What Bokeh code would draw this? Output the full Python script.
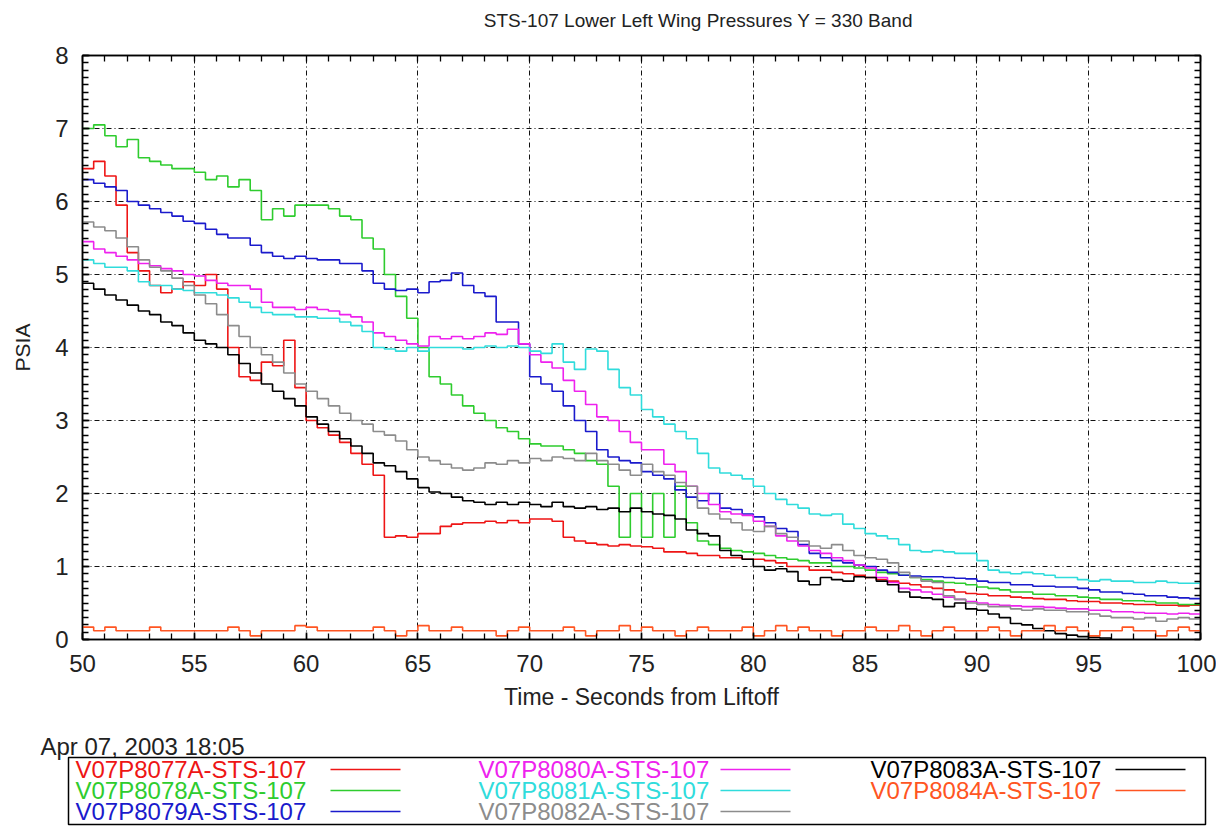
import numpy as np
from bokeh.plotting import figure
from bokeh.models import Range1d, LinearAxis, SingleIntervalTicker, FixedTicker
from bokeh.core.properties import value
from bokeh.embed import file_html
from bokeh.resources import INLINE

TITLE = "STS-107 Lower Left Wing Pressures Y = 330 Band"
X_LABEL = "Time - Seconds from Liftoff"
Y_LABEL = "PSIA"
DATE_TEXT = "Apr 07, 2003 18:05"

# time grid (s from liftoff), 0.5 s steps from 50 to 100
T = np.arange(50.0, 100.01, 0.5)

NAMES = ["V07P8077A-STS-107", "V07P8078A-STS-107", "V07P8079A-STS-107",
         "V07P8080A-STS-107", "V07P8081A-STS-107", "V07P8082A-STS-107",
         "V07P8083A-STS-107", "V07P8084A-STS-107"]
COLORS = ["#ee1515", "#2ecc2e", "#1a1acc", "#ee22ee", "#30dcdc", "#8c8c8c", "#000000", "#ff5522"]

P8077 = [6.45, 6.55, 6.35, 5.95, 5.3, 5.05, 4.85, 4.75, 4.8, 4.9,
         4.85, 5.0, 4.8, 4.0, 3.6, 3.55, 3.8, 3.75, 4.1, 3.45,
         3.0, 2.9, 2.8, 2.7, 2.55, 2.4, 2.25, 1.4, 1.42, 1.4,
         1.45, 1.45, 1.55, 1.58, 1.6, 1.6, 1.62, 1.6, 1.63, 1.6,
         1.65, 1.65, 1.62, 1.4, 1.35, 1.32, 1.3, 1.28, 1.3, 1.28,
         1.27, 1.25, 1.2, 1.2, 1.18, 1.15, 1.15, 1.12, 1.12, 1.1,
         1.1, 1.08, 1.05, 1.0, 1.0, 0.95, 0.95, 0.92, 0.9, 0.88,
         0.85, 0.82, 0.8, 0.77, 0.75, 0.72, 0.7, 0.68, 0.65, 0.63,
         0.62, 0.6, 0.6, 0.58, 0.57, 0.56, 0.55, 0.55, 0.53, 0.52,
         0.52, 0.5, 0.5, 0.49, 0.48, 0.48, 0.47, 0.47, 0.46, 0.47,
         0.47]
P8078 = [7.0, 7.05, 6.9, 6.75, 6.85, 6.6, 6.55, 6.5, 6.45, 6.45,
         6.4, 6.3, 6.35, 6.2, 6.3, 6.15, 5.75, 5.9, 5.8, 5.95,
         5.95, 5.95, 5.9, 5.8, 5.75, 5.5, 5.35, 5.0, 4.7, 4.4,
         4.0, 3.6, 3.5, 3.35, 3.2, 3.1, 3.0, 2.9, 2.85, 2.75,
         2.68, 2.65, 2.65, 2.6, 2.55, 2.45, 2.4, 2.1, 1.4, 2.0,
         1.4, 2.0, 1.4, 2.1, 1.6, 1.35, 1.3, 1.25, 1.22, 1.2,
         1.18, 1.15, 1.12, 1.1, 1.08, 1.05, 1.05, 1.0, 1.0, 0.98,
         0.95, 0.92, 0.9, 0.88, 0.85, 0.82, 0.8, 0.78, 0.77, 0.75,
         0.72, 0.7, 0.68, 0.65, 0.65, 0.62, 0.62, 0.6, 0.6, 0.58,
         0.57, 0.55, 0.55, 0.53, 0.53, 0.52, 0.5, 0.5, 0.48, 0.48,
         0.5]
P8079 = [6.3, 6.25, 6.2, 6.15, 6.0, 5.95, 5.9, 5.85, 5.8, 5.73,
         5.7, 5.62, 5.55, 5.5, 5.5, 5.4, 5.3, 5.25, 5.22, 5.25,
         5.22, 5.2, 5.2, 5.15, 5.15, 5.05, 4.88, 4.8, 4.78, 4.8,
         4.75, 4.9, 4.92, 5.02, 4.85, 4.75, 4.7, 4.35, 4.35, 4.05,
         3.6, 3.5, 3.4, 3.2, 3.0, 2.85, 2.6, 2.5, 2.45, 2.42,
         2.3, 2.25, 2.2, 2.05, 1.95, 1.9, 2.0, 1.8, 1.78, 1.72,
         1.68, 1.6, 1.52, 1.48, 1.3, 1.18, 1.12, 1.08, 1.05, 1.02,
         1.0, 0.95, 0.92, 0.88, 0.87, 0.86, 0.86, 0.85, 0.84, 0.83,
         0.8, 0.78, 0.78, 0.75, 0.75, 0.73, 0.73, 0.72, 0.72, 0.7,
         0.68, 0.65, 0.65, 0.63, 0.62, 0.6, 0.6, 0.58, 0.57, 0.56,
         0.56]
P8080 = [5.45, 5.35, 5.3, 5.25, 5.2, 5.15, 5.12, 5.08, 5.05, 5.0,
         4.98, 4.92, 4.88, 4.85, 4.85, 4.8, 4.62, 4.55, 4.55, 4.52,
         4.55, 4.52, 4.5, 4.45, 4.42, 4.35, 4.2, 4.15, 4.1, 4.05,
         4.02, 4.15, 4.12, 4.15, 4.12, 4.15, 4.2, 4.18, 4.25, 4.05,
         3.9, 3.8, 3.72, 3.55, 3.4, 3.22, 3.05, 3.0, 2.85, 2.7,
         2.6, 2.6, 2.4, 2.3, 2.1, 2.0, 1.85, 1.75, 1.72, 1.7,
         1.62, 1.55, 1.42, 1.35, 1.28, 1.22, 1.18, 1.12, 1.08, 1.02,
         0.98, 0.85, 0.78, 0.7, 0.68, 0.65, 0.62, 0.58, 0.55, 0.52,
         0.5, 0.48, 0.47, 0.46, 0.45, 0.45, 0.44, 0.43, 0.42, 0.42,
         0.4, 0.4, 0.38, 0.38, 0.37, 0.36, 0.36, 0.35, 0.36, 0.35,
         0.36]
P8081 = [5.2, 5.15, 5.1, 5.1, 5.05, 4.9, 4.85, 4.85, 4.8, 4.78,
         4.75, 4.75, 4.72, 4.68, 4.62, 4.55, 4.48, 4.45, 4.45, 4.42,
         4.42, 4.4, 4.4, 4.35, 4.3, 4.22, 4.0, 3.98, 3.95, 4.0,
         3.95, 4.0, 4.0, 4.0, 3.98, 4.0, 4.02, 4.0, 4.02, 4.0,
         3.95, 3.92, 4.05, 3.8, 3.7, 3.98, 3.95, 3.7, 3.45, 3.35,
         3.15, 3.05, 2.95, 2.85, 2.75, 2.55, 2.35, 2.28, 2.25, 2.2,
         2.1, 2.0, 1.92, 1.85, 1.8, 1.72, 1.7, 1.72, 1.58, 1.52,
         1.45, 1.42, 1.38, 1.3, 1.22, 1.2, 1.22, 1.2, 1.18, 1.18,
         1.08, 0.95, 0.92, 0.9, 0.92, 0.9, 0.88, 0.85, 0.85, 0.82,
         0.8, 0.82, 0.8, 0.8, 0.78, 0.78, 0.8, 0.78, 0.77, 0.77,
         0.75]
P8082 = [5.72, 5.65, 5.6, 5.5, 5.38, 5.2, 5.1, 5.05, 4.95, 4.85,
         4.72, 4.6, 4.45, 4.3, 4.15, 4.0, 3.9, 3.8, 3.65, 3.5,
         3.4, 3.3, 3.2, 3.1, 3.0, 2.95, 2.85, 2.8, 2.72, 2.6,
         2.5, 2.45, 2.4, 2.35, 2.32, 2.35, 2.42, 2.4, 2.45, 2.42,
         2.48, 2.45, 2.5, 2.48, 2.45, 2.55, 2.45, 2.4, 2.32, 2.25,
         2.4, 2.3, 2.25, 2.15, 2.1, 1.8, 1.72, 1.65, 1.6, 1.5,
         1.48, 1.55, 1.45, 1.4, 1.35, 1.28, 1.25, 1.3, 1.22, 1.15,
         1.12, 1.1, 1.05, 0.92, 0.85, 0.8, 0.78, 0.6, 0.55, 0.5,
         0.48, 0.45, 0.45, 0.42, 0.4, 0.42, 0.4, 0.4, 0.38, 0.38,
         0.35, 0.32, 0.3, 0.3, 0.28, 0.3, 0.25, 0.28, 0.3, 0.28,
         0.3]
P8083 = [4.88, 4.8, 4.72, 4.65, 4.58, 4.5, 4.45, 4.35, 4.3, 4.2,
         4.1, 4.05, 4.0, 3.9, 3.78, 3.65, 3.5, 3.4, 3.3, 3.2,
         3.05, 2.95, 2.85, 2.75, 2.65, 2.55, 2.42, 2.38, 2.3, 2.2,
         2.08, 2.02, 2.0, 1.95, 1.9, 1.88, 1.85, 1.88, 1.85, 1.88,
         1.85, 1.82, 1.88, 1.82, 1.8, 1.82, 1.78, 1.8, 1.75, 1.8,
         1.75, 1.72, 1.7, 1.65, 1.5, 1.45, 1.42, 1.22, 1.15, 1.1,
         1.0, 0.95, 0.97, 0.93, 0.8, 0.75, 0.85, 0.82, 0.8, 0.86,
         0.85, 0.8, 0.75, 0.65, 0.58, 0.57, 0.55, 0.45, 0.5, 0.42,
         0.4, 0.35, 0.3, 0.22, 0.2, 0.15, 0.12, 0.08, 0.06, 0.04,
         0.03, 0.02, -0.05, -0.05, -0.05, -0.05, -0.05, -0.05, -0.05, -0.05,
         -0.05]
P8084 = [0.17, 0.12, 0.17, 0.12, 0.12, 0.12, 0.17, 0.12, 0.12, 0.12,
         0.12, 0.12, 0.12, 0.17, 0.12, 0.05, 0.12, 0.12, 0.12, 0.19,
         0.17, 0.12, 0.12, 0.12, 0.12, 0.12, 0.17, 0.12, 0.05, 0.12,
         0.19, 0.12, 0.12, 0.17, 0.12, 0.12, 0.12, 0.05, 0.12, 0.17,
         0.12, 0.12, 0.12, 0.17, 0.12, 0.05, 0.12, 0.12, 0.19, 0.12,
         0.17, 0.12, 0.12, 0.05, 0.12, 0.17, 0.12, 0.12, 0.12, 0.17,
         0.05, 0.12, 0.19, 0.12, 0.17, 0.12, 0.12, 0.05, 0.12, 0.12,
         0.17, 0.12, 0.12, 0.19, 0.12, 0.05, 0.12, 0.17, 0.12, 0.12,
         0.12, 0.17, 0.12, 0.05, 0.12, 0.12, 0.19, 0.12, 0.17, 0.12,
         0.05, 0.12, 0.12, 0.17, 0.12, 0.12, 0.05, 0.12, 0.17, 0.12,
         0.12]
SERIES = [P8077, P8078, P8079, P8080, P8081, P8082, P8083, P8084]

FONT = "Liberation Sans"
TXT = "#222222"
W = 1216
H_TOP, H_MAIN, H_BOT = 40, 678, 108     # stacked page strips (px)


def strip(height):
    """A blank figure whose frame fills its whole canvas, in page-like pixels."""
    f = figure(width=W, height=height, output_backend="svg", toolbar_location=None,
               x_range=Range1d(0, W), y_range=Range1d(height, 0), title=None,
               x_axis_location=None, y_axis_location=None,
               min_border_left=0, min_border_right=0, min_border_top=0, min_border_bottom=0)
    f.grid.visible = False
    f.outline_line_color = None
    f.background_fill_color = "white"
    f.border_fill_color = "white"
    return f


# ---------------- title strip ----------------
r = strip(H_TOP)
r.text(x=[698], y=[20], text=[TITLE], text_color=TXT, text_font=value(FONT),
       text_font_size=value("19px"), text_align="center", text_baseline="middle")

# ---------------- main plot ----------------
p = figure(width=W, height=H_MAIN, output_backend="svg", toolbar_location=None,
           x_range=Range1d(50, 100), y_range=Range1d(0, 8),
           min_border_left=82, min_border_right=16, min_border_top=15, min_border_bottom=79)
p.background_fill_color = "white"
p.border_fill_color = "white"
p.outline_line_color = "black"
p.outline_line_width = 1.5

xt = SingleIntervalTicker(interval=5, num_minor_ticks=5)
yt = SingleIntervalTicker(interval=1, num_minor_ticks=10)


def style_axis(ax, ticker):
    ax.ticker = ticker
    ax.axis_line_color = "black"
    ax.axis_line_width = 1.5
    ax.major_tick_in = 7
    ax.major_tick_out = 0
    ax.minor_tick_in = 6
    ax.minor_tick_out = 0
    ax.major_tick_line_color = "black"
    ax.minor_tick_line_color = "black"
    ax.major_tick_line_width = 1.5
    ax.minor_tick_line_width = 1.3
    ax.major_label_text_font = FONT
    ax.major_label_text_font_size = "24px"
    ax.major_label_text_color = TXT
    ax.axis_label_text_font = FONT
    ax.axis_label_text_font_style = "normal"
    ax.axis_label_text_color = TXT


style_axis(p.xaxis[0], xt)
style_axis(p.yaxis[0], yt)
p.xaxis[0].major_label_standoff = 15
p.yaxis[0].major_label_standoff = 14
p.xaxis[0].axis_label = X_LABEL
p.yaxis[0].axis_label = Y_LABEL
p.xaxis[0].axis_label_text_font_size = "23px"
p.yaxis[0].axis_label_text_font_size = "21px"
p.xaxis[0].axis_label_standoff = 9
p.yaxis[0].axis_label_standoff = 18

# top and right: inward ticks only, no labels
top_ax = LinearAxis(ticker=FixedTicker(ticks=[], minor_ticks=list(np.arange(50, 100.5, 1.0))))
right_ax = LinearAxis(ticker=FixedTicker(ticks=[], minor_ticks=list(np.round(np.arange(0, 8.05, 0.1), 2))))
for ax in (top_ax, right_ax):
    ax.axis_line_color = "black"
    ax.axis_line_width = 1.5
    ax.minor_tick_in = 6
    ax.minor_tick_out = 0
    ax.minor_tick_line_color = "black"
    ax.minor_tick_line_width = 1.3
    ax.major_tick_in = 0
    ax.major_tick_out = 0
p.add_layout(top_ax, "above")
p.add_layout(right_ax, "right")

p.xgrid.ticker = xt
p.ygrid.ticker = yt
for g in (p.xgrid, p.ygrid):
    g.grid_line_color = "#111111"
    g.grid_line_width = 1
    g.grid_line_dash = "5 3 1 3"

for vals, col in zip(SERIES, COLORS):
    p.step(x=T, y=vals, mode="after", line_color=col, line_width=1.6)

# ---------------- date + legend strip ----------------
q = strip(H_BOT)
q.text(x=[40], y=[28], text=[DATE_TEXT], text_color=TXT, text_font=value(FONT),
       text_font_size=value("24px"), text_baseline="middle", text_align="left")
q.quad(left=[68], right=[1205], top=[39], bottom=[106], fill_color=None,
       line_color="black", line_width=1.5)

col_text_x = [75, 478, 870]
col_line_x = [(330, 400), (720, 790), (1115, 1185)]
row_y = [51, 72, 93]
lx, ly, lt, lc, sx0, sx1, sy = [], [], [], [], [], [], []
for i, (name, colr) in enumerate(zip(NAMES, COLORS)):
    c, rr = divmod(i, 3)
    lx.append(col_text_x[c]); ly.append(row_y[rr]); lt.append(name); lc.append(colr)
    sx0.append(col_line_x[c][0]); sx1.append(col_line_x[c][1]); sy.append(row_y[rr])
q.text(x=lx, y=ly, text=lt, text_color=lc, text_font=value(FONT),
       text_font_size=value("24px"), text_baseline="middle", text_align="left")
q.segment(x0=sx0, y0=sy, x1=sx1, y1=sy, line_color=lc, line_width=1.6)

open("out.html", "w").write(file_html([r, p, q], INLINE))
